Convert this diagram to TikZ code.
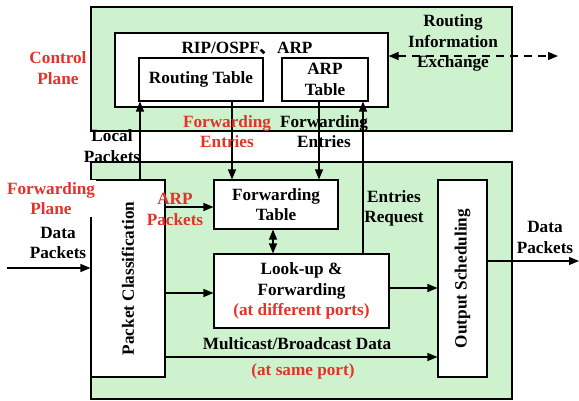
\documentclass[tikz,border=0pt]{standalone}
\usepackage{fontspec}
\setmainfont{Liberation Serif}
\newfontfamily\cjk{Noto Sans CJK SC}
\usetikzlibrary{arrows.meta}
\definecolor{pgreen}{RGB}{206,242,206}
\definecolor{lred}{RGB}{228,50,40}
\begin{document}
\begin{tikzpicture}[x=1pt,y=-1pt,
  font=\fontsize{17.2}{20.5}\selectfont\bfseries,
  box/.style={draw, line width=1.1pt, fill=white, inner sep=0, align=center},
  plane/.style={draw, line width=1.1pt, fill=pgreen, inner sep=0},
  lbl/.style={align=center, inner sep=0},
  redlbl/.style={lbl, text=lred},
  arr/.style={-{Triangle[length=10pt,width=8pt]}, line width=1.1pt},
  darr/.style={{Triangle[length=10pt,width=8pt]}-{Triangle[length=10pt,width=8pt]}, line width=1.1pt}]
\useasboundingbox (0,0) rectangle (579,400);
% planes
\node[plane, minimum width=421pt, minimum height=124pt] (cp) at (301.5,69) {};
\node[plane, minimum width=421pt, minimum height=237pt] (fp) at (301.5,280.5) {};
% boxes
\node[box, minimum width=273pt, minimum height=74pt] (rip) at (251.5,70) {};
\node[lbl] (riplbl) at (247,48) {RIP/OSPF{\cjk 、}ARP};
\node[box, minimum width=124pt, minimum height=43pt] (rt) at (201,79.5) {Routing Table};
\node[box, minimum width=86pt, minimum height=43pt] (arpt) at (325,79.5) {ARP\\Table};
\node[box, minimum width=74pt, minimum height=197pt] (pc) at (128,278.5) {};
\node[lbl, rotate=90] (pclbl) at (pc.center) {Packet Classification};
\node[box, minimum width=124pt, minimum height=49pt] (ft) at (276,204.5) {Forwarding\\Table};
\node[box, minimum width=175pt, minimum height=74pt] (lu) at (301.5,291) {Look-up \&\\Forwarding\\{\color{lred}(at different ports)}};
\node[box, minimum width=49pt, minimum height=197pt] (os) at (462.5,278.5) {};
\node[lbl, rotate=90] (oslbl) at (os.center) {Output Scheduling};
% helper coordinates
\coordinate (xlp) at (140,0);
\coordinate (xfe) at (232,0);
\coordinate (xae) at (319,0);
\coordinate (xer) at (363,0);
\coordinate (xdd) at (273,0);
\coordinate (yap) at (0,207);
\coordinate (ylu) at (0,293);
\coordinate (yos) at (0,288);
\coordinate (ymc) at (0,357);
\coordinate (yri) at (0,56);
\coordinate (inend) at (7,268);
\coordinate (outend) at (579,261);
\coordinate (riend) at (558,56);
% connectors
\draw[arr] (pc.north -| xlp) -- (rt.south -| xlp);
\draw[arr] (rt.south -| xfe) -- (ft.north -| xfe);
\draw[arr] (arpt.south -| xae) -- (ft.north -| xae);
\draw[arr] (lu.north -| xer) -- (arpt.south -| xer);
\draw[arr] (pc.east |- yap) -- (ft.west |- yap);
\draw[darr] (ft.south -| xdd) -- (lu.north -| xdd);
\draw[arr] (pc.east |- ylu) -- (lu.west |- ylu);
\draw[arr] (lu.east |- yos) -- (os.west |- yos);
\draw[arr] (pc.east |- ymc) -- (os.west |- ymc);
\draw[arr] (inend) -- (pc.west |- inend);
\draw[arr] (os.east |- outend) -- (outend);
\draw[darr, dash pattern=on 8pt off 6pt] (rip.east |- yri) -- (riend);
% labels
\node[redlbl] (cpl) at (58,68) {Control\\Plane};
\node[lbl] (rie) at (453,43) {Routing\\Information\\Exchange};
\node[redlbl] (fe1) at (227,131.5) {Forwarding\\Entries};
\node[lbl] (fe2) at (324,131.5) {Forwarding\\Entries};
\node[lbl] (lpk) at (112,146) {Local\\Packets};
\node[redlbl, fill=white, inner xsep=1pt, inner ysep=2pt] (fpl) at (51,198.5) {Forwarding\\Plane};
\node[lbl] (dpin) at (58,243) {Data\\Packets};
\node[redlbl] (apk) at (175,209.5) {ARP\\Packets};
\node[lbl] (erq) at (394,208.5) {Entries\\Request};
\node[lbl] (mcd) at (297,344) {Multicast/Broadcast Data};
\node[redlbl] (asp) at (303,371) {(at same port)};
\node[lbl] (dpout) at (545,237.5) {Data\\Packets};
\end{tikzpicture}
\end{document}
